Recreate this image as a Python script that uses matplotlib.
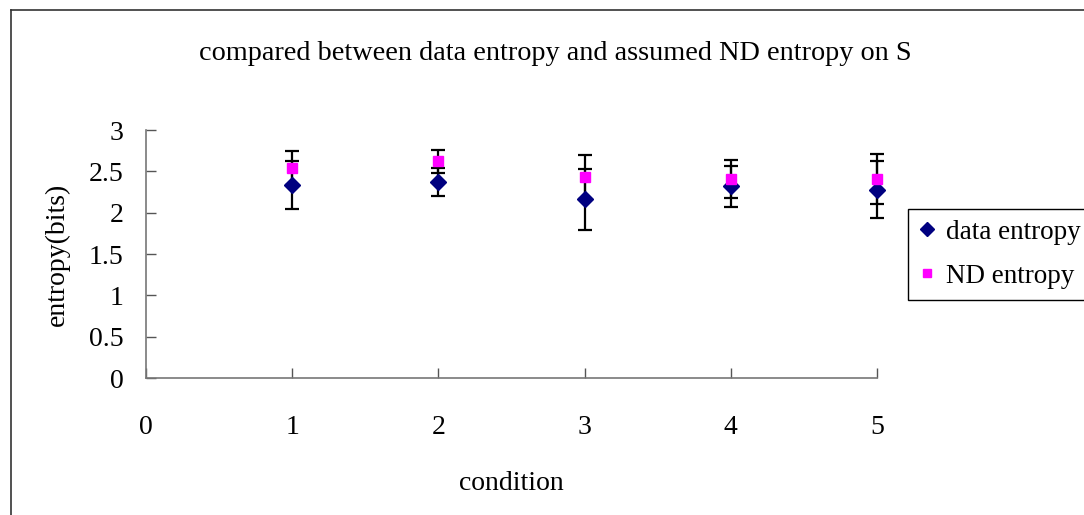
import matplotlib
matplotlib.use("Agg")
import matplotlib.pyplot as plt
from matplotlib.lines import Line2D

plt.rcParams['font.family'] = ['Liberation Serif', 'DejaVu Serif']

conditions = [1, 2, 3, 4, 5]
data_entropy = [2.33, 2.37, 2.16, 2.32, 2.28]
data_err = [0.29, 0.17, 0.37, 0.25, 0.34]
nd_entropy = [2.54, 2.62, 2.43, 2.41, 2.41]
nd_err = [0.20, 0.14, 0.27, 0.23, 0.30]

fig = plt.figure(figsize=(10.84, 5.15), dpi=100)
ax = fig.add_axes([146/1084, 1-378/515, (877-146)/1084, (378-130)/515])

# outer chart border (only left and top visible in the crop)
fig.add_artist(Line2D([11/1084, 11/1084], [0, 1-10/515], color='#333333', lw=1.2))
fig.add_artist(Line2D([11/1084, 1], [1-10/515, 1-10/515], color='#333333', lw=1.2))

for vals, errs in [(data_entropy, data_err), (nd_entropy, nd_err)]:
    eb = ax.errorbar(conditions, vals, yerr=errs, fmt='none', ecolor='black',
                     elinewidth=1.6, capsize=5, capthick=1.6, zorder=2)
    for art in eb.lines[1] + eb.lines[2]:
        art.set_clip_on(False)
ax.plot(conditions, data_entropy, 'D', color='#000080', ms=8, ls='none',
        label='data entropy', zorder=3, clip_on=False)
ax.plot(conditions, nd_entropy, 's', color='#FF00FF', ms=7.5, ls='none',
        label='ND entropy', zorder=3, clip_on=False)

ax.set_xlim(0, 5)
ax.set_ylim(0, 3)
ax.set_xticks([0, 1, 2, 3, 4, 5])
ax.set_yticks([0, 0.5, 1, 1.5, 2, 2.5, 3])
ax.set_yticklabels(['0', '0.5', '1', '1.5', '2', '2.5', '3'])
ax.tick_params(axis='both', direction='in', length=7, width=1, color='#555555',
               labelsize=20)
ax.tick_params(axis='x', pad=27)
ax.tick_params(axis='y', pad=16)
for s in ['top', 'right']:
    ax.spines[s].set_visible(False)
for s in ['left', 'bottom']:
    ax.spines[s].set_color('#777777')
    ax.spines[s].set_linewidth(1.2)

ax.set_xlabel('condition', fontsize=20, labelpad=22)
ax.set_ylabel('entropy(bits)', fontsize=20, labelpad=14)
fig.text(555/1084, 1-53/515, 'compared between data entropy and assumed ND entropy on S',
         ha='center', va='center', fontsize=20.3)

leg = fig.legend(loc='upper left', bbox_to_anchor=(908/1084, 1-209/515), fontsize=19.5,
                 fancybox=False, edgecolor='black', framealpha=1, handletextpad=0.4,
                 handlelength=0.6, borderpad=0.4, labelspacing=0.7, borderaxespad=0,
                 markerscale=0.85)
leg.get_frame().set_linewidth(1.0)

fig.savefig('out.png', dpi=100)
